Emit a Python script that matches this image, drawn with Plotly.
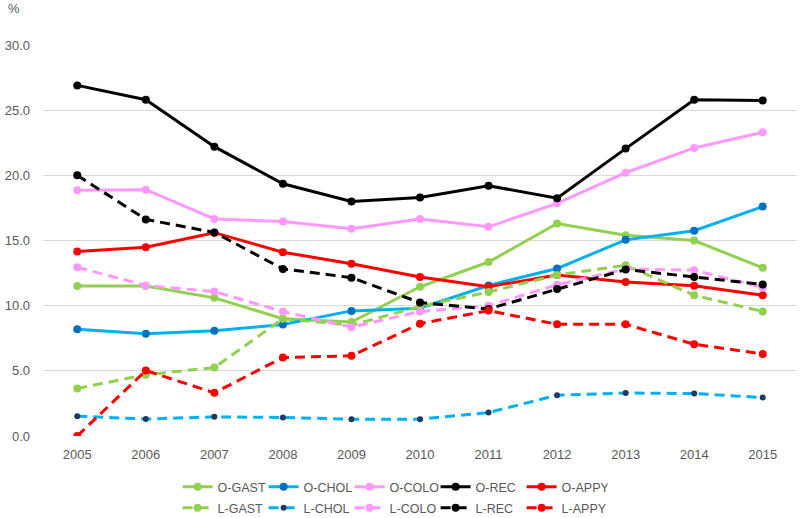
import plotly.graph_objects as go

years = [2005, 2006, 2007, 2008, 2009, 2010, 2011, 2012, 2013, 2014, 2015]

o_gast = [11.5, 11.5, 10.6, 9.0, 8.75, 11.45, 13.35, 16.3, 15.4, 15.0, 12.9]
o_chol = [8.2, 7.85, 8.07, 8.55, 9.6, 9.8, 11.55, 12.85, 15.05, 15.75, 17.6]
o_colo = [18.85, 18.9, 16.65, 16.45, 15.9, 16.65, 16.05, 17.85, 20.2, 22.1, 23.3]
o_rec = [26.9, 25.8, 22.2, 19.35, 18.0, 18.3, 19.2, 18.25, 22.05, 25.8, 25.75]
o_appy = [14.15, 14.48, 15.6, 14.1, 13.22, 12.2, 11.45, 12.35, 11.82, 11.52, 10.8]

l_gast = [3.65, 4.7, 5.25, 9.0, 8.5, 9.95, 11.05, 12.35, 13.1, 10.8, 9.55]
l_chol = [1.52, 1.3, 1.47, 1.42, 1.29, 1.29, 1.8, 3.13, 3.3, 3.26, 2.95]
l_colo = [12.95, 11.55, 11.08, 9.55, 8.35, 9.55, 10.0, 11.6, 12.82, 12.72, 11.4]
l_rec = [20.0, 16.62, 15.62, 12.82, 12.15, 10.24, 9.75, 11.28, 12.77, 12.2, 11.62]
l_appy = [0.0, 5.02, 3.31, 6.02, 6.15, 8.62, 9.62, 8.57, 8.57, 7.04, 6.3]

y_ticks = [0, 5, 10, 15, 20, 25, 30]

GREEN = "#92D050"
CYAN = "#00B0F0"
BLUE = "#0070C0"
NAVY = "#1F3864"
PINK = "#FF99FF"
BLACK = "#000000"
RED = "#FF0000"

series = [
    ("O-GAST", o_gast, GREEN, GREEN, "solid", 8, "legend"),
    ("O-CHOL", o_chol, CYAN, BLUE, "solid", 8, "legend"),
    ("O-COLO", o_colo, PINK, PINK, "solid", 8, "legend"),
    ("O-REC", o_rec, BLACK, BLACK, "solid", 8, "legend"),
    ("O-APPY", o_appy, RED, RED, "solid", 8, "legend"),
    ("L-GAST", l_gast, GREEN, GREEN, "10px,6px", 8, "legend2"),
    ("L-CHOL", l_chol, CYAN, NAVY, "10px,6px", 6, "legend2"),
    ("L-COLO", l_colo, PINK, PINK, "10px,6px", 8, "legend2"),
    ("L-REC", l_rec, BLACK, BLACK, "10px,6px", 8, "legend2"),
    ("L-APPY", l_appy, RED, RED, "10px,6px", 8, "legend2"),
]

fig = go.Figure()
for name, vals, lc, mc, dash, ms, lg in series:
    fig.add_trace(go.Scatter(
        x=years, y=vals, name=name, mode="lines+markers",
        line=dict(color=lc, width=3, dash=dash),
        marker=dict(color=mc, size=ms),
        legend=lg,
    ))

font = dict(family="Liberation Sans", size=13, color="#595959")
lfont = dict(family="Liberation Sans", size=12.5, color="#595959")

leg_common = dict(orientation="h", xref="container", x=0.222, xanchor="left",
                  yref="container", yanchor="middle", entrywidth=41,
                  entrywidthmode="pixels", font=lfont,
                  bgcolor="rgba(0,0,0,0)", tracegroupgap=0)

fig.update_layout(
    width=800, height=518,
    margin=dict(l=43, r=3, t=45, b=82),
    paper_bgcolor="white", plot_bgcolor="white",
    font=font,
    xaxis=dict(range=[2004.5, 2015.5], tickmode="array", tickvals=years,
               ticktext=[str(y) for y in years], showgrid=False,
               zeroline=False, showline=False, ticks="", tickfont=font,
               ticklabelstandoff=9, automargin=False),
    yaxis=dict(range=[0, 30], tickvals=y_ticks, tickformat=".1f",
               showgrid=True, gridcolor="#D9D9D9", gridwidth=1,
               zeroline=False, showline=False, ticks="", tickfont=font,
               ticklabelstandoff=12, automargin=False),
    legend=dict(y=1 - 487 / 518, **leg_common),
    legend2=dict(y=1 - 508 / 518, **leg_common),
    annotations=[dict(text="%", x=0, y=1, xref="paper", yref="paper",
                      xshift=-37, yshift=36.5, xanchor="left",
                      yanchor="middle", showarrow=False, font=font)],
)

fig.write_html("out.html", config={"displayModeBar": False},
               post_script="document.body.style.margin='0px';")
